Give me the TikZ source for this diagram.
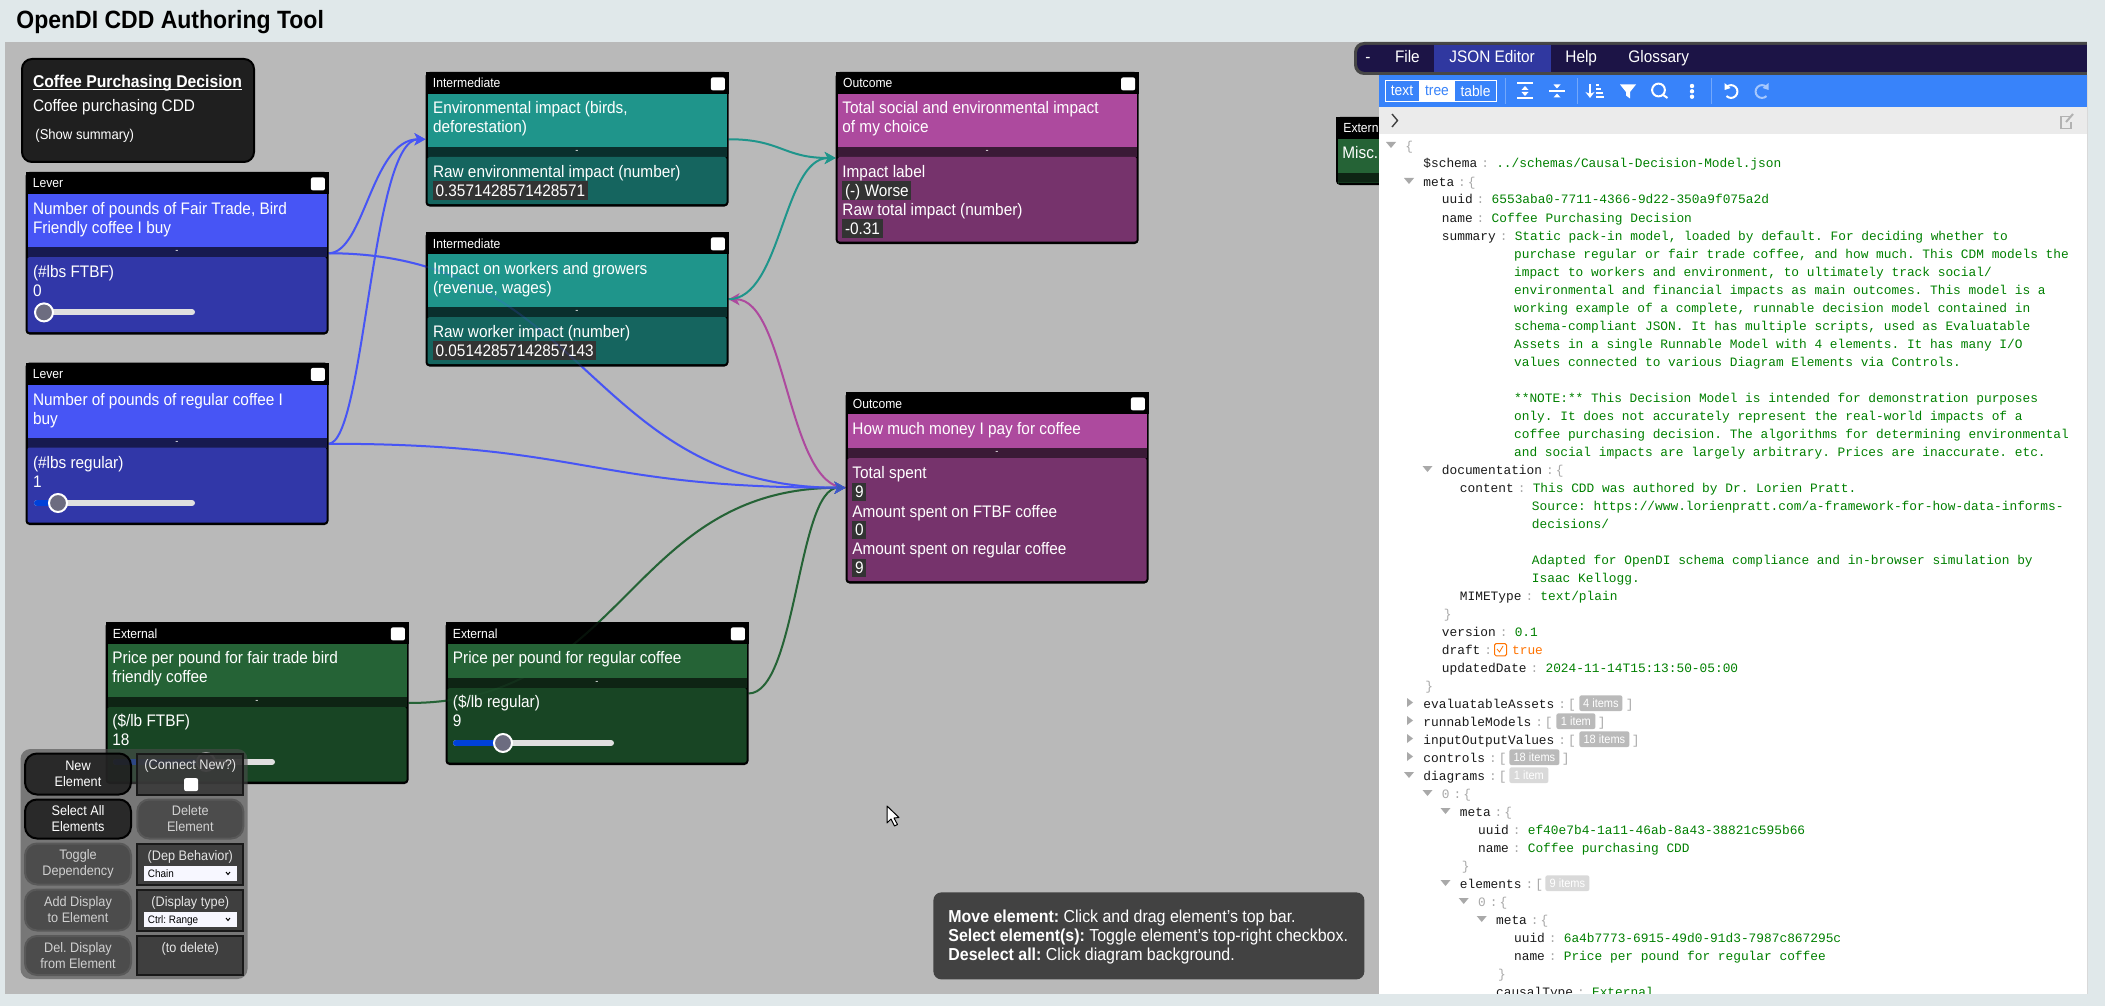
\documentclass[tikz,border=0pt]{standalone}
\usepackage{fontspec}
\setmainfont[FakeStretch=.92]{Liberation Sans}
\newfontfamily\jsonfont{Liberation Mono}
\usetikzlibrary{arrows.meta,backgrounds}

\definecolor{pagebg}{HTML}{E0E8EA}
\definecolor{canvasbg}{HTML}{B9B9B9}
\definecolor{leverTitle}{HTML}{4755F5}
\definecolor{leverStrip}{HTML}{171A50}
\definecolor{leverLow}{HTML}{3137A8}
\definecolor{interTitle}{HTML}{1F958B}
\definecolor{interStrip}{HTML}{0A2F2D}
\definecolor{interLow}{HTML}{15655F}
\definecolor{extTitle}{HTML}{256336}
\definecolor{extStrip}{HTML}{0E2414}
\definecolor{extLow}{HTML}{184524}
\definecolor{outTitle}{HTML}{AD4A9E}
\definecolor{outStrip}{HTML}{3A1A36}
\definecolor{outLow}{HTML}{76336C}
\definecolor{valuebg}{HTML}{333333}
\definecolor{jsonkey}{HTML}{1A1A1A}
\definecolor{jsonval}{HTML}{008000}
\definecolor{jsongrey}{HTML}{A9A9A9}
\definecolor{jsonblue}{HTML}{3883FA}
\definecolor{menubg}{HTML}{1C1446}
\definecolor{menutab}{HTML}{3038A0}

\tikzset{
	elemframe/.style={shape=rectangle,anchor=north west,fill=black,rounded corners=2pt,inner sep=0,outer sep=0,minimum width=151.5pt},
	elemkind/.style={anchor=base west,inner sep=0,text=white,font=\fontsize{6.6}{7}\selectfont},
	elemtxt/.style={anchor=base west,inner sep=0,text=white,font=\fontsize{8.35}{9.5}\selectfont},
	elemval/.style={anchor=base west,inner xsep=1.3pt,inner ysep=0,text height=7.5pt,text depth=1.8pt,fill=valuebg,text=white,font=\fontsize{8.35}{9.5}\selectfont},
	elemdash/.style={inner sep=0,text=white,font=\fontsize{5}{6}\selectfont},
	checkmark/.style={shape=rectangle,anchor=north west,fill=white,rounded corners=1pt,inner sep=0,minimum width=7pt,minimum height=6.5pt},
	slidertrack/.style={line width=3pt,line cap=round,draw=black!12},
	sliderfill/.style={line width=3pt,line cap=round,draw=blue!70!cyan!85!black},
	sliderthumb/.style={shape=circle,fill=black!50!blue!15!gray,draw=white,line width=1pt,inner sep=0,minimum size=9pt},
	link/.style={line width=1pt,-{Stealth[length=5.5pt,width=6pt,inset=1.5pt]}},
	ctrlpanel/.style={fill=black!70,fill opacity=.6,rounded corners=5pt},
	ctrlbtn/.style={shape=rectangle,fill=black!88,draw=black,line width=1pt,rounded corners=6pt,fill opacity=.88,text opacity=1,text=white,align=center,inner sep=0,minimum width=53pt,font=\fontsize{6.9}{8}\selectfont},
	ctrloff/.style={ctrlbtn,fill=black!72,draw=black!65,text=black!18},
	ctrlbox/.style={shape=rectangle,fill=black!78,draw=black!90,line width=1pt,fill opacity=.88,text opacity=1,inner sep=0,minimum width=53pt},
	ctrltxt/.style={anchor=base,inner sep=0,text=black!10,font=\fontsize{6.9}{8}\selectfont},
	ctrlselect/.style={shape=rectangle,fill=black!3!blue!3!white,anchor=north west,inner sep=0,minimum width=46.5pt,minimum height=7.4pt},
	ctrlopt/.style={anchor=base west,inner sep=0,text=black,font=\fontsize{5.4}{6}\selectfont},
	helpline/.style={anchor=base west,inner sep=0,text=white,font=\fontsize{8.67}{9}\selectfont},
	menutxt/.style={anchor=base west,inner sep=0,text=white,font=\fontsize{8.35}{9}\selectfont},
	modetxt/.style={inner sep=0,font=\fontsize{7.5}{8}\selectfont},
	jsontxt/.style={anchor=base west,inner sep=0,font=\jsonfont\fontsize{6.42}{8}\selectfont},
	jsonbadge/.style={anchor=north west,shape=rectangle,inner sep=0,rounded corners=1pt,minimum height=7.8pt,text=white,font=\fontsize{6}{6}\selectfont},
	toolicon/.style={draw=white,line width=1pt},
}

% x, y in pixels of the screenshot
\newcommand{\cddbox}[7]{%
	\begin{scope}[shift={(#4,#5)}]
		\node[elemframe,minimum height={#7*.5pt}] (#1) at (0,0) {};
		\fill[black] (0,0) rectangle (303,22);
		\fill[#3Title] (2,22) rectangle (301,{22+#6});
		\fill[#3Strip] (2,{22+#6}) rectangle (301,{32+#6});
		\fill[#3Low,rounded corners=1pt] (2,{32+#6}) rectangle (301,{#7-2.5});
		\node[elemkind] (#1kind) at (7,16) {#2};
		\node[checkmark] (#1check) at (285,5) {};
		\node[elemdash] (#1dash) at (151.5,{27+#6}) {-};
	\end{scope}
}
\newcommand{\cddslider}[5]{%
	\draw[slidertrack] (#2,#4) -- (#3,#4);
	\draw[sliderfill] (#2,#4) -- (#5,#4);
	\node[sliderthumb] (#1) at (#5,#4) {};
}
\newcommand{\jkv}[4]{\node[jsontxt] (j#1) at (#2,#1) {\textcolor{jsonkey}{#3}\hspace{2pt}\textcolor{jsongrey}{:}\hspace{3.6pt}\textcolor{jsonval}{#4}};}
\newcommand{\jopen}[4]{%
	\fill[jsongrey] ({#2-19},{#1-8}) -- ({#2-9},{#1-8}) -- ({#2-14},{#1-2}) -- cycle;
	\node[jsontxt] (j#1) at (#2,#1) {\textcolor{jsonkey}{#3}\hspace{2pt}\textcolor{jsongrey}{:\hspace{1pt}#4}};}
\newcommand{\jlist}[7]{%
	\fill[jsongrey] ({#2-16},{#1-10}) -- ({#2-16},{#1-1}) -- ({#2-10},{#1-5.5}) -- cycle;
	\node[jsontxt] (j#1) at (#2,#1) {\textcolor{jsonkey}{#3}\hspace{2pt}\textcolor{jsongrey}{:\hspace{1pt}[}};
	\node[jsonbadge,fill=#6,minimum width={(#5)*.5pt}] (b#1) at (#4,{#1-13}) {#7};
}
\newcommand{\jclose}[2]{\node[jsontxt] (j#1) at ({#2+2},#1) {\textcolor{jsongrey}{\}}};}

\begin{document}
\frenchspacing
\begin{tikzpicture}[x=.5pt,y=-.5pt]
	\useasboundingbox (0,0) rectangle (2105,1006);
	\begin{scope}[on background layer]
		\fill[pagebg] (0,0) rectangle (2105,1006);
		\fill[canvasbg] (5,42) rectangle (1380,994);
	\end{scope}
	\node[anchor=base west,inner sep=0,text=black,font=\bfseries\fontsize{12.5}{13}\selectfont] (apptitle) at (16,29) {OpenDI CDD Authoring Tool};

	% summary
	\node[shape=rectangle,anchor=north west,fill=black!88,draw=black,line width=1pt,rounded corners=5pt,minimum width=116pt,minimum height=51.5pt] (summary) at (21,58) {};
	\node[elemtxt,font=\bfseries\fontsize{8.55}{9.5}\selectfont] (sumtitle) at (32.6,88) {Coffee Purchasing Decision};
	\draw[white,line width=.5pt] ([yshift=-1pt]sumtitle.base west) -- ([yshift=-1pt]sumtitle.base east);
	\node[elemtxt] (sumname) at (32.6,112) {Coffee purchasing CDD};
	\node[elemtxt,font=\fontsize{7.1}{8}\selectfont] (sumshow) at (35,139.5) {(Show summary)};

	% levers
	\cddbox{leverA}{Lever}{lever}{25.5}{172}{53}{162.5}
	\node[elemtxt] (leverAt1) at (32.6,214.5) {Number of pounds of Fair Trade, Bird};
	\node[elemtxt] (leverAt2) at (32.6,234) {Friendly coffee I buy};
	\node[elemtxt] (leverAu) at (32.6,277.6) {(\#lbs FTBF)};
	\node[elemtxt] (leverAv) at (32.6,296.5) {0};
	\cddslider{leverAthumb}{37}{192}{312.4}{44}

	\cddbox{leverB}{Lever}{lever}{25.5}{362.5}{53}{162.5}
	\node[elemtxt] (leverBt1) at (32.6,405) {Number of pounds of regular coffee I};
	\node[elemtxt] (leverBt2) at (32.6,424.5) {buy};
	\node[elemtxt] (leverBu) at (32.6,468) {(\#lbs regular)};
	\node[elemtxt] (leverBv) at (32.6,487) {1};
	\cddslider{leverBthumb}{37}{192}{503}{58}

	% intermediates
	\cddbox{interA}{Intermediate}{inter}{425.5}{72}{53}{134.5}
	\node[elemtxt] (interAt1) at (432.6,114) {Environmental impact (birds,};
	\node[elemtxt] (interAt2) at (432.6,133) {deforestation)};
	\node[elemtxt] (interAu) at (432.6,177.5) {Raw environmental impact (number)};
	\node[elemval] (interAv) at (432.6,196.4) {0.3571428571428571};

	\cddbox{interB}{Intermediate}{inter}{425.5}{232}{53}{134.5}
	\node[elemtxt] (interBt1) at (432.6,274) {Impact on workers and growers};
	\node[elemtxt] (interBt2) at (432.6,293) {(revenue, wages)};
	\node[elemtxt] (interBu) at (432.6,337.5) {Raw worker impact (number)};
	\node[elemval] (interBv) at (432.6,356.4) {0.05142857142857143};

	% outcomes
	\cddbox{outA}{Outcome}{out}{835.7}{72}{53}{172}
	\node[elemtxt] (outAt1) at (842,114) {Total social and environmental impact};
	\node[elemtxt] (outAt2) at (842,133) {of my choice};
	\node[elemtxt] (outAu) at (842,177.5) {Impact label};
	\node[elemval] (outAv) at (842,196.4) {(-) Worse};
	\node[elemtxt] (outAw) at (842,215.4) {Raw total impact (number)};
	\node[elemval] (outAx) at (842,234.3) {-0.31};

	\cddbox{outB}{Outcome}{out}{845.5}{392}{34}{191.5}
	\node[elemtxt] (outBt1) at (852,434) {How much money I pay for coffee};
	\node[elemtxt] (outBu) at (852,478.6) {Total spent};
	\node[elemval] (outBv) at (852,497.6) {9};
	\node[elemtxt] (outBw) at (852,517) {Amount spent on FTBF coffee};
	\node[elemval] (outBx) at (852,535.7) {0};
	\node[elemtxt] (outBy) at (852,554.6) {Amount spent on regular coffee};
	\node[elemval] (outBz) at (852,573.5) {9};

	% externals
	\cddbox{extA}{External}{ext}{105.5}{622}{53}{162}
	\node[elemtxt] (extAt1) at (112,663.3) {Price per pound for fair trade bird};
	\node[elemtxt] (extAt2) at (112,682.7) {friendly coffee};
	\node[elemtxt] (extAu) at (112,726.7) {(\$/lb FTBF)};
	\node[elemtxt] (extAv) at (112,745.7) {18};
	\cddslider{extAthumb}{116}{272}{762}{206}

	\cddbox{extB}{External}{ext}{445.5}{622}{34}{143}
	\node[elemtxt] (extBt1) at (452.5,663.3) {Price per pound for regular coffee};
	\node[elemtxt] (extBu) at (452.5,707.7) {(\$/lb regular)};
	\node[elemtxt] (extBv) at (452.5,726.7) {9};
	\cddslider{extBthumb}{456}{611}{743}{503}

	\cddbox{extC}{External}{ext}{1336}{117}{34}{68}
	\node[elemtxt] (extCt1) at (1342,158.7) {Misc.};

	% connectors
	\begin{scope}[on background layer]
		\draw[link,outTitle] (outB.west) .. controls +(-58,0) and +(58,0) .. (interB.east);
		\draw[link,extTitle] (extA.east) .. controls +(218,0) and +(-218,0) .. (outB.west);
		\draw[link,extTitle] (extB.east) .. controls +(48,0) and +(-48,0) .. (outB.west);
		\draw[link,interTitle] (interA.east) .. controls +(53,0) and +(-53,0) .. (outA.west);
		\draw[link,interTitle] (interB.east) .. controls +(53,0) and +(-53,0) .. (outA.west);
		\draw[link,leverTitle] (leverA.east) .. controls +(36,0) and +(-54,0) .. (interA.west);
		\draw[link,leverTitle] (leverB.east) .. controls +(36,0) and +(-54,0) .. (interA.west);
		\draw[link,leverTitle] (leverA.east) .. controls +(258,0) and +(-258,0) .. (outB.west);
		\draw[link,leverTitle] (leverB.east) .. controls +(258,0) and +(-258,0) .. (outB.west);
	\end{scope}
	\begin{scope}[opacity=.18]
		\draw[link,leverTitle] (leverA.east) .. controls +(258,0) and +(-258,0) .. (outB.west);
		\draw[link,extTitle] (extA.east) .. controls +(218,0) and +(-218,0) .. (outB.west);
	\end{scope}

	% control panel
	\fill[ctrlpanel] (20.5,749) rectangle (247.5,979);
	\node[ctrlbtn,minimum height=20.5pt] (newelem) at (78,774) {New\\Element};
	\node[ctrlbox,minimum height=20.5pt] (connectbox) at (190.3,774) {};
	\node[ctrltxt] (connecttxt) at (190.3,769) {(Connect New?)};
	\node[checkmark] (connectcheck) at (183.7,777.7) {};
	\node[ctrlbtn,minimum height=19.5pt] (selectall) at (78,819) {Select All\\Elements};
	\node[ctrloff,minimum height=19.5pt] (deleteelem) at (190.3,819) {Delete\\Element};
	\node[ctrloff,minimum height=20.5pt] (toggledep) at (78,864) {Toggle\\Dependency};
	\node[ctrlbox,minimum height=20.5pt] (depbox) at (190.3,864) {};
	\node[ctrltxt] (deptxt) at (190.3,860) {(Dep Behavior)};
	\node[ctrlselect] (depselect) at (144,866) {};
	\node[ctrlopt] (depopt) at (147.5,877.5) {Chain};
	\draw[black,line width=.5pt] (226,872) -- (228,874.5) -- (230,872);
	\node[ctrloff,minimum height=20.5pt] (adddisp) at (78,910) {Add Display\\to Element};
	\node[ctrlbox,minimum height=20.5pt] (typebox) at (190.3,910) {};
	\node[ctrltxt] (typetxt) at (190.3,906) {(Display type)};
	\node[ctrlselect] (typeselect) at (144,912) {};
	\node[ctrlopt] (typeopt) at (147.5,923.5) {Ctrl: Range};
	\draw[black,line width=.5pt] (226,918) -- (228,920.5) -- (230,918);
	\node[ctrloff,minimum height=19.5pt] (deldisp) at (78,955.5) {Del. Display\\from Element};
	\node[ctrlbox,minimum height=19.5pt] (delbox) at (190.3,955.5) {};
	\node[ctrltxt] (deltxt) at (190.3,952) {(to delete)};

	% help
	\node[shape=rectangle,anchor=north west,fill=black!74,rounded corners=4pt,inner sep=0,minimum width=215.5pt,minimum height=43.5pt] (helpbox) at (933,892) {};
	\node[helpline] (helpA) at (948,922.7) {\textbf{Move element:} Click and drag element's top bar.};
	\node[helpline] (helpB) at (948,941.3) {\textbf{Select element(s):} Toggle element's top-right checkbox.};
	\node[helpline] (helpC) at (948,960) {\textbf{Deselect all:} Click diagram background.};

	% pointer
	\filldraw[fill=white,draw=black,line width=.5pt,line join=round] (887,806) -- (887,823) -- (891,819) -- (894.5,826) -- (897.5,824.5) -- (894,818) -- (899,817.5) -- cycle;

	% menu
	\fill[white] (1379,134) rectangle (2087,994);
	\fill[black!72,rounded corners=5pt] (1354,42) rectangle (2200,75);
	\fill[menubg,rounded corners=4pt] (1357,45) rectangle (2200,72);
	\fill[menutab] (1434,45) rectangle (1551,72);
	\node[menutxt] (menuA) at (1365,63) {-};
	\node[menutxt] (menuB) at (1394.6,63) {File};
	\node[menutxt] (menuC) at (1449,63) {JSON Editor};
	\node[menutxt] (menuD) at (1565,63) {Help};
	\node[menutxt] (menuE) at (1628,63) {Glossary};

	% toolbar
	\fill[jsonblue] (1379,75) rectangle (2087,107);
	\fill[white] (1419,81) rectangle (1455,101);
	\draw[white,line width=.5pt] (1385,80.5) rectangle (1496.5,101.5);
	\node[modetxt,text=white] (modeA) at (1402,91) {text};
	\node[modetxt,text=jsonblue] (modeB) at (1437,91) {tree};
	\node[modetxt,text=white] (modeC) at (1475.5,91) {table};
	\foreach \sx in {1505,1577,1711} {
		\draw[white,opacity=.3,line width=.5pt] (\sx,78) -- (\sx,104);
	}
	\draw[toolicon] (1517,83.5) -- (1533,83.5) (1517,98.5) -- (1533,98.5);
	\fill[white] (1525,86) -- (1528.5,90) -- (1521.5,90) -- cycle (1525,96) -- (1528.5,92) -- (1521.5,92) -- cycle;
	\draw[toolicon] (1549,91) -- (1565,91);
	\fill[white] (1557,88.5) -- (1553.5,84.5) -- (1560.5,84.5) -- cycle (1557,93.5) -- (1553.5,97.5) -- (1560.5,97.5) -- cycle;
	\draw[toolicon,-{Stealth[length=3pt,width=4.5pt]}] (1590,84) -- (1590,98);
	\draw[white,line width=.7pt] (1596,85) -- (1599,85) (1596,89) -- (1601,89) (1596,93) -- (1603,93) (1596,97) -- (1604,97);
	\fill[white] (1620,84.5) -- (1636,84.5) -- (1630,92) -- (1630,98.5) -- (1626,95.5) -- (1626,92) -- cycle;
	\draw[toolicon] (1658.5,90) circle[radius=3.2pt] (1662.5,94.5) -- (1667.5,98);
	\foreach \dy in {86,91.3,96.7} {
		\fill[white] (1692,\dy) circle[radius=1.1pt];
	}
	\draw[toolicon] (1726.5,87) arc[start angle=135,end angle=-135,radius=3.2pt];
	\fill[white] (1724.5,83) -- (1724.5,90) -- (1730.5,88) -- cycle;
	\draw[toolicon,white!55!jsonblue] (1766.5,87) arc[start angle=45,end angle=315,radius=3.2pt];
	\fill[white!55!jsonblue] (1768.5,83) -- (1768.5,90) -- (1762.5,88) -- cycle;

	% navigation bar
	\fill[black!8] (1379,107) rectangle (2087,134);
	\draw[black!75,line width=.7pt] (1392,114) -- (1397.5,120.5) -- (1392,127);
	\draw[black!30,line width=.7pt] (2071,116.5) -- (2061,116.5) -- (2061,128.5) -- (2071,128.5) -- (2071,122);
	\draw[black!30,line width=1pt] (2066,122) -- (2073,114);

	% json tree
	\fill[jsongrey] (1386,142) -- (1396,142) -- (1391,148) -- cycle;
	\node[jsontxt] (j150) at (1405,150) {\textcolor{jsongrey}{\{}};
	\jkv{168}{1423}{\$schema}{../schemas/Causal-Decision-Model.json}
	\jopen{186}{1423}{meta}{\{}
	\jkv{204}{1441.5}{uuid}{6553aba0-7711-4366-9d22-350a9f075a2d}
	\jkv{222}{1441.5}{name}{Coffee Purchasing Decision}
	\jkv{240}{1441.5}{summary}{Static pack-in model, loaded by default. For deciding whether to}
	\foreach \jy/\jtext in {
		258/{purchase regular or fair trade coffee, and how much. This CDM models the},
		276/{impact to workers and environment, to ultimately track social/},
		294/{environmental and financial impacts as main outcomes. This model is a},
		312/{working example of a complete, runnable decision model contained in},
		330/{schema-compliant JSON. It has multiple scripts, used as Evaluatable},
		348/{Assets in a single Runnable Model with 4 elements. It has many I/O},
		366/{values connected to various Diagram Elements via Controls.},
		402/{**NOTE:** This Decision Model is intended for demonstration purposes},
		420/{only. It does not accurately represent the real-world impacts of a},
		438/{coffee purchasing decision. The algorithms for determining environmental},
		456/{and social impacts are largely arbitrary. Prices are inaccurate. etc.}} {
		\node[jsontxt,text=jsonval] (j\jy) at (1513.7,\jy) {\jtext};
	}
	\jopen{474}{1441.5}{documentation}{\{}
	\jkv{492}{1459.5}{content}{This CDD was authored by Dr. Lorien Pratt.}
	\foreach \jy/\jtext in {
		510/{Source: https://www.lorienpratt.com/a-framework-for-how-data-informs-},
		528/{decisions/},
		564/{Adapted for OpenDI schema compliance and in-browser simulation by},
		582/{Isaac Kellogg.}} {
		\node[jsontxt,text=jsonval] (j\jy) at (1531.5,\jy) {\jtext};
	}
	\jkv{600}{1459.5}{MIMEType}{text/plain}
	\jclose{618}{1441.5}
	\jkv{636}{1441.5}{version}{0.1}
	\node[jsontxt] (j654) at (1441.5,654) {\textcolor{jsonkey}{draft}\hspace{2pt}\textcolor{jsongrey}{:}};
	\node[shape=rectangle,anchor=north west,draw=orange!90!red,line width=.5pt,rounded corners=.8pt,inner sep=0,minimum width=6pt,minimum height=6.2pt] (draftbox) at (1494,643) {};
	\draw[orange!90!red,line width=.4pt] (1497,649) -- (1499.5,652) -- (1503,646);
	\node[jsontxt,text=orange!90!red] (draftval) at (1511.7,654) {true};
	\jkv{672}{1441.5}{updatedDate}{2024-11-14T15:13:50-05:00}
	\jclose{690}{1423}
	\jlist{708}{1423}{evaluatableAssets}{1579}{43}{black!27}{4 items}
	\node[jsontxt,text=jsongrey] (c708) at (1625.5,708) {]};
	\jlist{726}{1423}{runnableModels}{1556}{39}{black!27}{1 item}
	\node[jsontxt,text=jsongrey] (c726) at (1597.5,726) {]};
	\jlist{744}{1423}{inputOutputValues}{1579}{50}{black!27}{18 items}
	\node[jsontxt,text=jsongrey] (c744) at (1631.5,744) {]};
	\jlist{762}{1423}{controls}{1509}{50}{black!27}{18 items}
	\node[jsontxt,text=jsongrey] (c762) at (1561.5,762) {]};
	\jopen{780}{1423}{diagrams}{[}
	\node[jsonbadge,fill=black!15,minimum width=19.5pt] (b780) at (1509,767) {1 item};
	\node[jsontxt,text=jsongrey] (j798) at (1441.5,798) {0\hspace{2pt}:\hspace{1pt}\{};
	\fill[jsongrey] (1422.5,790) -- (1432.5,790) -- (1427.5,796) -- cycle;
	\jopen{816}{1459.5}{meta}{\{}
	\jkv{834}{1477.7}{uuid}{ef40e7b4-1a11-46ab-8a43-38821c595b66}
	\jkv{852}{1477.7}{name}{Coffee purchasing CDD}
	\jclose{870}{1459.5}
	\jopen{888}{1459.5}{elements}{[}
	\node[jsonbadge,fill=black!15,minimum width=22pt] (b888) at (1545,875) {9 items};
	\node[jsontxt,text=jsongrey] (j906) at (1477.7,906) {0\hspace{2pt}:\hspace{1pt}\{};
	\fill[jsongrey] (1458.7,898) -- (1468.7,898) -- (1463.7,904) -- cycle;
	\jopen{924}{1495.7}{meta}{\{}
	\jkv{942}{1513.7}{uuid}{6a4b7773-6915-49d0-91d3-7987c867295c}
	\jkv{960}{1513.7}{name}{Price per pound for regular coffee}
	\jclose{978}{1495.7}
	\jkv{996}{1495.7}{causalType}{External}

	% page edges over the panel
	\fill[pagebg] (0,994) rectangle (2105,1006);
	\fill[pagebg] (2087,0) rectangle (2105,1006);
	\draw[black!15,line width=.5pt] (2087,75) -- (2087,994);
\end{tikzpicture}
\end{document}
